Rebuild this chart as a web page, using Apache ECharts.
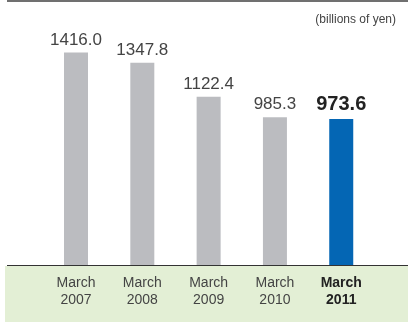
<!DOCTYPE html>
<html>
<head>
<meta charset="utf-8">
<script src="https://cdn.jsdelivr.net/npm/echarts@6/dist/echarts.min.js"></script>
<style>
  html, body { margin: 0; padding: 0; background: #fff; }
  #chart { width: 408px; height: 324px; }
</style>
</head>
<body>
<div id="chart"></div>
<script>
// Fiscal year-end labels and totals (billions of yen)
const categories = ['March\n2007', 'March\n2008', 'March\n2009', 'March\n2010', 'March\n2011'];
const values = [1416.0, 1347.8, 1122.4, 985.3, 973.6];
const unitLabel = '(billions of yen)';

const FONT = '"Liberation Sans", Arial, Helvetica, sans-serif';
const lastIdx = values.length - 1;

const chart = echarts.init(document.getElementById('chart'), null, { renderer: 'canvas' });

const barData = values.map((v, i) => {
  const isLast = i === lastIdx;
  return {
    value: v,
    itemStyle: { color: isLast ? '#0466b4' : '#bbbcc0' },
    label: isLast
      ? { fontSize: 20, fontWeight: 'bold', color: '#222' }
      : { fontSize: 17, fontWeight: 'normal', color: '#444' }
  };
});

const catData = categories.map((c, i) => (
  i === lastIdx
    ? { value: c, textStyle: { fontWeight: 'bold', color: '#222' } }
    : { value: c }
));

chart.setOption({
  animation: false,
  backgroundColor: '#fff',
  grid: { left: 42.85, right: 33.6, top: 40, bottom: 59 },
  graphic: [
    { type: 'rect', shape: { x: 7, y: 0, width: 401, height: 2 }, style: { fill: '#707070' }, z: -10 },
    { type: 'rect', shape: { x: 5, y: 266, width: 403, height: 56 }, style: { fill: '#e3efd5' }, z: -10 },
    { type: 'line', shape: { x1: 7, y1: 265.5, x2: 408, y2: 265.5 }, style: { stroke: '#333', lineWidth: 1 }, z: 5 },
    {
      type: 'text', right: 12, top: 14,
      style: { text: unitLabel, font: '12px ' + FONT, fill: '#444', textAlign: 'right' }
    }
  ],
  xAxis: {
    type: 'category',
    data: catData,
    z: 10,
    axisLine: { show: false },
    axisTick: { show: false },
    axisLabel: {
      margin: 10,
      fontFamily: FONT,
      fontSize: 14,
      lineHeight: 17,
      color: '#444'
    }
  },
  yAxis: {
    type: 'value',
    min: 0,
    max: 1500,
    show: false,
    splitLine: { show: false }
  },
  series: [{
    type: 'bar',
    data: barData,
    barWidth: 24,
    label: {
      show: true,
      position: 'top',
      distance: 4,
      fontFamily: FONT,
      formatter: p => p.value.toFixed(1)
    }
  }]
});
</script>
</body>
</html>
